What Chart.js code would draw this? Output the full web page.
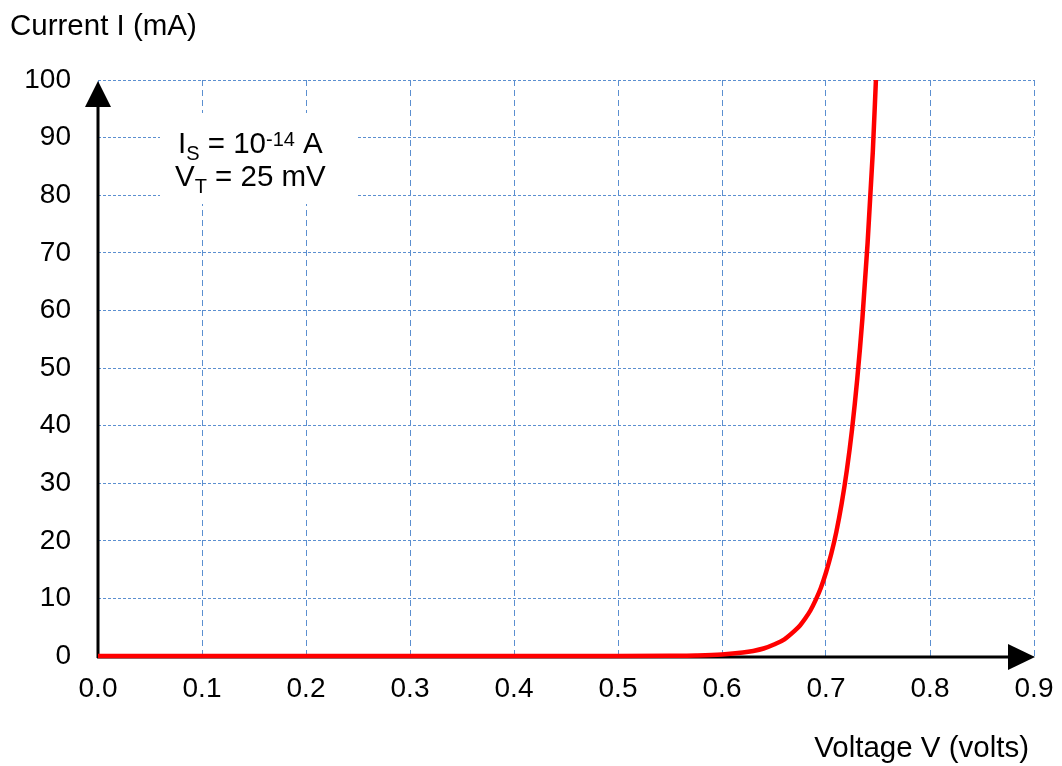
<!DOCTYPE html>
<html>
<head>
<meta charset="utf-8">
<script src="https://cdn.jsdelivr.net/npm/chart.js@4.4.1/dist/chart.umd.min.js"></script>
<style>
  body { margin: 0; background: #fff; }
</style>
</head>
<body>
<canvas id="diode" width="1062" height="766"></canvas>
<script>
/** DIODE I-V CURVE **/

// voltage in volts, current in mA
var voltage = [0, 0.1, 0.2, 0.3, 0.4, 0.5, 0.55, 0.575, 0.6, 0.62, 0.63, 0.64, 0.65, 0.66, 0.67, 0.675, 0.68, 0.685, 0.69, 0.695,
               0.70, 0.705, 0.71, 0.715, 0.72, 0.725, 0.73, 0.735, 0.74, 0.745, 0.748];
var current = [0, 0, 0, 0, 0, 0, 0.04, 0.1, 0.27, 0.6, 0.88, 1.3, 2.0, 2.9, 4.4, 5.3, 6.5, 7.9, 9.7, 11.8,
               14.5, 17.7, 21.6, 26.4, 32.2, 39.3, 48, 58.6, 71.7, 87.5, 100];

var xTicks = [0, 0.1, 0.2, 0.3, 0.4, 0.5, 0.6, 0.7, 0.8, 0.9];
var yTicks = [0, 10, 20, 30, 40, 50, 60, 70, 80, 90, 100];

var FONT = "'Liberation Sans', Arial, sans-serif";
var gridBlue = '#5b8fd0';

var points = voltage.map(function (v, i) { return { x: v, y: current[i] }; });

// axes with arrow heads, labels and the parameter box
var extras = {
    id: 'extras',
    beforeDatasetsDraw: function (chart) {
        var ctx = chart.ctx;
        var xs = chart.scales.x, ys = chart.scales.y;
        var x0 = xs.getPixelForValue(0), x1 = xs.getPixelForValue(0.9);
        var y0 = ys.getPixelForValue(0), y1 = ys.getPixelForValue(100);
        ctx.save();

        // white box behind the parameters
        ctx.fillStyle = '#fff';
        ctx.fillRect(160, 113, 198, 91);

        ctx.fillStyle = '#000';
        ctx.textBaseline = 'alphabetic';
        ctx.textAlign = 'left';
        var big = '29.5px ' + FONT, small = '20px ' + FONT;
        // I_S = 10^-14 A
        var x = 178, y = 153;
        ctx.font = big; ctx.fillText('I', x, y); x += ctx.measureText('I').width;
        ctx.font = small; ctx.fillText('S', x, y + 7); x += ctx.measureText('S').width;
        ctx.font = big; ctx.fillText(' = 10', x, y); x += ctx.measureText(' = 10').width;
        ctx.font = small; ctx.fillText('-14', x, y - 7); x += ctx.measureText('-14').width;
        ctx.font = big; ctx.fillText(' A', x, y);
        // V_T = 25 mV
        x = 175; y = 186;
        ctx.font = big; ctx.fillText('V', x, y); x += ctx.measureText('V').width;
        ctx.font = small; ctx.fillText('T', x, y + 7); x += ctx.measureText('T').width;
        ctx.font = big; ctx.fillText(' = 25 mV', x, y);

        // axis titles
        ctx.font = big;
        ctx.fillText('Current I (mA)', 10, 35);
        ctx.textAlign = 'right';
        ctx.fillText('Voltage V (volts)', 1029, 757);

        // axis lines
        ctx.strokeStyle = '#000';
        ctx.lineWidth = 3;
        ctx.beginPath();
        ctx.moveTo(x0, y0 + 2);
        ctx.lineTo(x0, y1 + 20);
        ctx.moveTo(x0 - 1, y0 + 1);
        ctx.lineTo(x1 - 20, y0 + 1);
        ctx.stroke();

        // arrow heads
        ctx.beginPath();
        ctx.moveTo(x0, y1 + 1);
        ctx.lineTo(x0 - 13, y1 + 27);
        ctx.lineTo(x0 + 13, y1 + 27);
        ctx.closePath();
        ctx.fill();
        ctx.beginPath();
        ctx.moveTo(x1 + 1, y0 + 1);
        ctx.lineTo(x1 - 26, y0 - 12);
        ctx.lineTo(x1 - 26, y0 + 14);
        ctx.closePath();
        ctx.fill();
        ctx.restore();
    }
};

var diode = new Chart(document.getElementById('diode'), {
    type: 'scatter',
    data: {
        datasets: [{
            data: points,
            showLine: true,
            borderColor: '#ff0000',
            borderWidth: 4.5,
            pointRadius: 0,
            cubicInterpolationMode: 'monotone',
            clip: false
        }]
    },
    options: {
        responsive: false,
        animation: false,
        layout: { padding: { top: 80, right: 28, left: 0, bottom: 0 } },
        plugins: { legend: { display: false }, tooltip: { enabled: false } },
        scales: {
            x: {
                type: 'linear',
                min: 0,
                max: 0.9,
                afterFit: function (s) { s.height = 110; s.paddingLeft = 0; s.paddingRight = 0; },
                afterBuildTicks: function (s) { s.ticks = xTicks.map(function (v) { return { value: v }; }); },
                ticks: {
                    color: '#000',
                    font: { family: FONT, size: 28 },
                    padding: 16,
                    maxRotation: 0,
                    callback: function (v) { return Number(v).toFixed(1); }
                },
                grid: { color: gridBlue, lineWidth: 1, drawTicks: false },
                border: { display: false, dash: [6, 4] }
            },
            y: {
                min: 0,
                max: 100,
                afterFit: function (s) { s.width = 98; s.paddingTop = 0; s.paddingBottom = 0; },
                afterBuildTicks: function (s) { s.ticks = yTicks.map(function (v) { return { value: v }; }); },
                ticks: {
                    color: '#000',
                    font: { family: FONT, size: 28 },
                    padding: 27
                },
                grid: { color: gridBlue, lineWidth: 1, drawTicks: false },
                border: { display: false, dash: [3, 2] }
            }
        }
    },
    plugins: [extras]
});
</script>
</body>
</html>
